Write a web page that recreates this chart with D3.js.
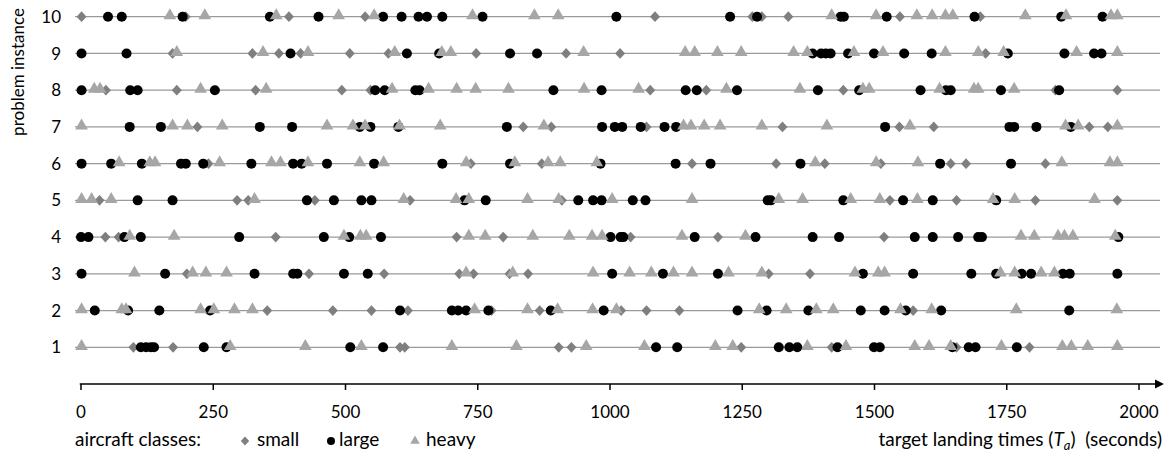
<!DOCTYPE html>
<html>
<head>
<meta charset="utf-8">
<script src="https://cdn.jsdelivr.net/npm/d3@7"></script>
<style>
  body { margin: 0; background: #fff; }
  svg text { font-family: Lato, "Open Sans", sans-serif; fill: #000; }
</style>
</head>
<body>
<div class="canvas"></div>
<script>
// chart size
const w = 1167;
const h = 458;

// problem instances (rows), x ticks
const instances = [1, 2, 3, 4, 5, 6, 7, 8, 9, 10];
const xTicks = [0, 250, 500, 750, 1000, 1250, 1500, 1750, 2000];

// target landing times per instance (index 0 = instance 1)
const small = [
  [100, 175, 604, 613, 904, 928, 1249, 1420, 1656, 1794],
  [353, 477, 550, 619, 777, 868, 1022, 1070, 1132, 1574],
  [201, 432, 574, 716, 743, 811, 846, 1301, 1379],
  [47, 72, 369, 711, 799, 1040, 1205, 1519],
  [36, 296, 317, 443, 623, 910, 1530, 1656, 1805, 1960],
  [242, 738, 872, 1156, 1315, 1407, 1513, 1645, 1674, 1824],
  [221, 837, 890, 1070, 1327, 1548, 1613, 1907, 1942],
  [48, 182, 331, 494, 548, 1077, 1183, 1442, 1843, 1960],
  [174, 325, 375, 416, 509, 582, 748, 918, 1020, 1711],
  [2, 199, 394, 538, 1086, 1270, 1288, 1338, 1549, 1701]
];
const large = [
  [114, 124, 133, 139, 233, 276, 510, 572, 1088, 1128, 1320, 1340, 1355, 1431, 1500, 1511, 1648, 1679, 1692, 1770],
  [27, 90, 149, 245, 604, 702, 714, 729, 771, 889, 989, 1242, 1297, 1376, 1475, 1520, 1560, 1627, 1869],
  [2, 160, 329, 402, 410, 498, 543, 1005, 1101, 1205, 1479, 1574, 1684, 1731, 1779, 1797, 1857, 1870, 1960],
  [1, 15, 83, 114, 300, 460, 508, 568, 1002, 1021, 1026, 1161, 1276, 1384, 1434, 1577, 1611, 1659, 1697, 1704, 1962],
  [108, 174, 428, 479, 531, 550, 726, 766, 941, 969, 985, 1044, 1068, 1299, 1305, 1442, 1555, 1611, 1731],
  [2, 58, 116, 190, 199, 232, 323, 402, 418, 466, 555, 684, 812, 983, 1125, 1191, 1361, 1625, 1759],
  [93, 152, 339, 400, 528, 548, 601, 806, 986, 1010, 1024, 1059, 1104, 1126, 1521, 1756, 1765, 1807, 1872],
  [2, 94, 108, 254, 557, 575, 633, 641, 894, 985, 1144, 1165, 1241, 1394, 1472, 1588, 1636, 1645, 1740, 1850],
  [2, 87, 397, 617, 678, 812, 863, 1384, 1400, 1409, 1418, 1451, 1500, 1557, 1609, 1753, 1860, 1916, 1930],
  [52, 78, 193, 358, 450, 572, 607, 639, 655, 684, 760, 1013, 1228, 1279, 1437, 1443, 1524, 1690, 1854, 1932]
];
const heavy = [
  [2, 283, 425, 531, 702, 824, 956, 1066, 1200, 1233, 1374, 1447, 1577, 1604, 1645, 1741, 1856, 1873, 1904, 1960],
  [2, 78, 86, 227, 252, 291, 325, 745, 845, 902, 968, 1013, 1283, 1334, 1391, 1423, 1550, 1609, 1769, 1959],
  [102, 212, 237, 276, 729, 817, 969, 1038, 1079, 1121, 1156, 1225, 1288, 1464, 1508, 1520, 1739, 1766, 1816, 1841],
  [93, 177, 498, 529, 540, 734, 765, 855, 924, 967, 986, 1137, 1257, 1778, 1803, 1848, 1860, 1876, 1956],
  [2, 21, 58, 329, 611, 710, 734, 845, 904, 1005, 1156, 1320, 1365, 1456, 1511, 1582, 1725, 1766, 1917],
  [73, 131, 141, 263, 361, 378, 430, 528, 573, 729, 821, 884, 907, 976, 1389, 1504, 1583, 1855, 1946, 1960],
  [2, 174, 202, 268, 466, 515, 538, 603, 680, 876, 1140, 1154, 1179, 1209, 1288, 1411, 1568, 1862, 1886, 1960],
  [26, 37, 227, 351, 589, 658, 711, 747, 809, 952, 1055, 1221, 1360, 1479, 1491, 1624, 1689, 1697, 1765],
  [182, 345, 430, 594, 683, 700, 951, 1143, 1161, 1204, 1249, 1348, 1374, 1462, 1517, 1635, 1697, 1745, 1883, 1960],
  [169, 235, 370, 488, 555, 741, 858, 903, 1420, 1504, 1581, 1610, 1635, 1649, 1786, 1863, 1948, 1960]
];

// colours and text sizes
const smallColor = "#7f7f7f";
const largeColor = "#000000";
const heavyColor = "#a6a6a6";
const fontSize = 17;
const legendFont = 19;

const svg = d3.select(".canvas").append("svg").attr("width", w).attr("height", h);

// scales
const x = d3.scaleLinear().domain([0, 2000]).range([80.5, 1138.5]);
const y = d3.scaleLinear().domain([1, 10]).range([347.3, 16.7]);
const axisY = 384;

// marker shapes
const diamond = (r) => `M0,${-r * 1.08}L${r},0L0,${r * 1.08}L${-r},0Z`;
const circle = (r) => d3.symbol(d3.symbolCircle, Math.PI * r * r)();
const triangle = (side) => d3.symbol(d3.symbolTriangle, (Math.sqrt(3) / 4) * side * side)();

// row lines
svg
  .append("g")
  .selectAll("line")
  .data(instances)
  .enter()
  .append("line")
  .attr("x1", 75)
  .attr("x2", 1160)
  .attr("y1", (d) => y(d))
  .attr("y2", (d) => y(d))
  .attr("stroke", "#9a9a9a")
  .attr("stroke-width", 1.2);

// y labels
svg
  .append("g")
  .selectAll("text")
  .data(instances)
  .enter()
  .append("text")
  .attr("x", 61)
  .attr("y", (d) => y(d))
  .attr("dy", "0.36em")
  .attr("text-anchor", "end")
  .style("font-size", fontSize + "px")
  .text((d) => d);

svg
  .append("text")
  .attr("transform", "translate(18, 72) rotate(-90)")
  .attr("text-anchor", "middle")
  .attr("dy", "0.36em")
  .style("font-size", fontSize + "px")
  .text("problem instance");

// flatten a series into {v, row} points
const flat = (series) =>
  series.flatMap((vals, i) => vals.map((v) => ({ v: v, row: instances[i] })));

// series drawn in legend order, heavy ends up on top
const plot = svg.append("g");
plot
  .selectAll(".small")
  .data(flat(small))
  .enter()
  .append("path")
  .attr("class", "small")
  .attr("d", diamond(5))
  .attr("fill", smallColor)
  .attr("transform", (d) => `translate(${x(d.v)}, ${y(d.row)})`);
plot
  .selectAll(".large")
  .data(flat(large))
  .enter()
  .append("path")
  .attr("class", "large")
  .attr("d", circle(5))
  .attr("fill", largeColor)
  .attr("transform", (d) => `translate(${x(d.v)}, ${y(d.row)})`);
plot
  .selectAll(".heavy")
  .data(flat(heavy))
  .enter()
  .append("path")
  .attr("class", "heavy")
  .attr("d", triangle(12.7))
  .attr("fill", heavyColor)
  .attr("transform", (d) => `translate(${x(d.v)}, ${y(d.row) - 1})`);

// x axis
const xAxis = d3.axisBottom(x).tickValues(xTicks).tickSize(6).tickPadding(16).tickFormat((d) => d);
const gx = svg.append("g").attr("transform", `translate(0, ${axisY})`).call(xAxis);
gx.select(".domain").remove();
gx.selectAll(".tick line").attr("stroke", "#000").attr("stroke-width", 1.5);
gx.selectAll(".tick text").style("font-size", fontSize + "px").style("font-family", "Lato, sans-serif");

svg
  .append("line")
  .attr("x1", x(0) - 0.75)
  .attr("x2", 1157)
  .attr("y1", axisY)
  .attr("y2", axisY)
  .attr("stroke", "#000")
  .attr("stroke-width", 1.5);
svg
  .append("path")
  .attr("d", `M1155,${axisY - 4.5}L1164,${axisY}L1155,${axisY + 4.5}Z`)
  .attr("fill", "#000");

// x title
const legendY = 446;
const xt = svg
  .append("text")
  .attr("x", 1162)
  .attr("y", legendY)
  .attr("text-anchor", "end")
  .style("white-space", "pre")
  .style("font-size", legendFont + "px");
xt.append("tspan").text("target landing times (");
xt.append("tspan").style("font-style", "italic").text("T");
xt.append("tspan").style("font-style", "italic").style("font-size", "13px").attr("dy", 4).text("a");
xt.append("tspan").attr("dy", -4).text(")  (seconds)");

// legend
svg
  .append("text")
  .attr("x", 75)
  .attr("y", legendY)
  .style("font-size", legendFont + "px")
  .text("aircraft classes:");

const legendItems = [
  { label: "small", sx: 245, tx: 257, shape: diamond(4.2), color: smallColor },
  { label: "large", sx: 331, tx: 339, shape: circle(4), color: largeColor },
  { label: "heavy", sx: 415, tx: 426, shape: triangle(9.5), color: heavyColor }
];
const legend = svg.append("g");
legend
  .selectAll("path")
  .data(legendItems)
  .enter()
  .append("path")
  .attr("d", (d) => d.shape)
  .attr("fill", (d) => d.color)
  .attr("transform", (d) => `translate(${d.sx}, ${legendY - 5})`);
legend
  .selectAll("text")
  .data(legendItems)
  .enter()
  .append("text")
  .attr("x", (d) => d.tx)
  .attr("y", legendY)
  .style("font-size", legendFont + "px")
  .text((d) => d.label);
</script>
</body>
</html>
